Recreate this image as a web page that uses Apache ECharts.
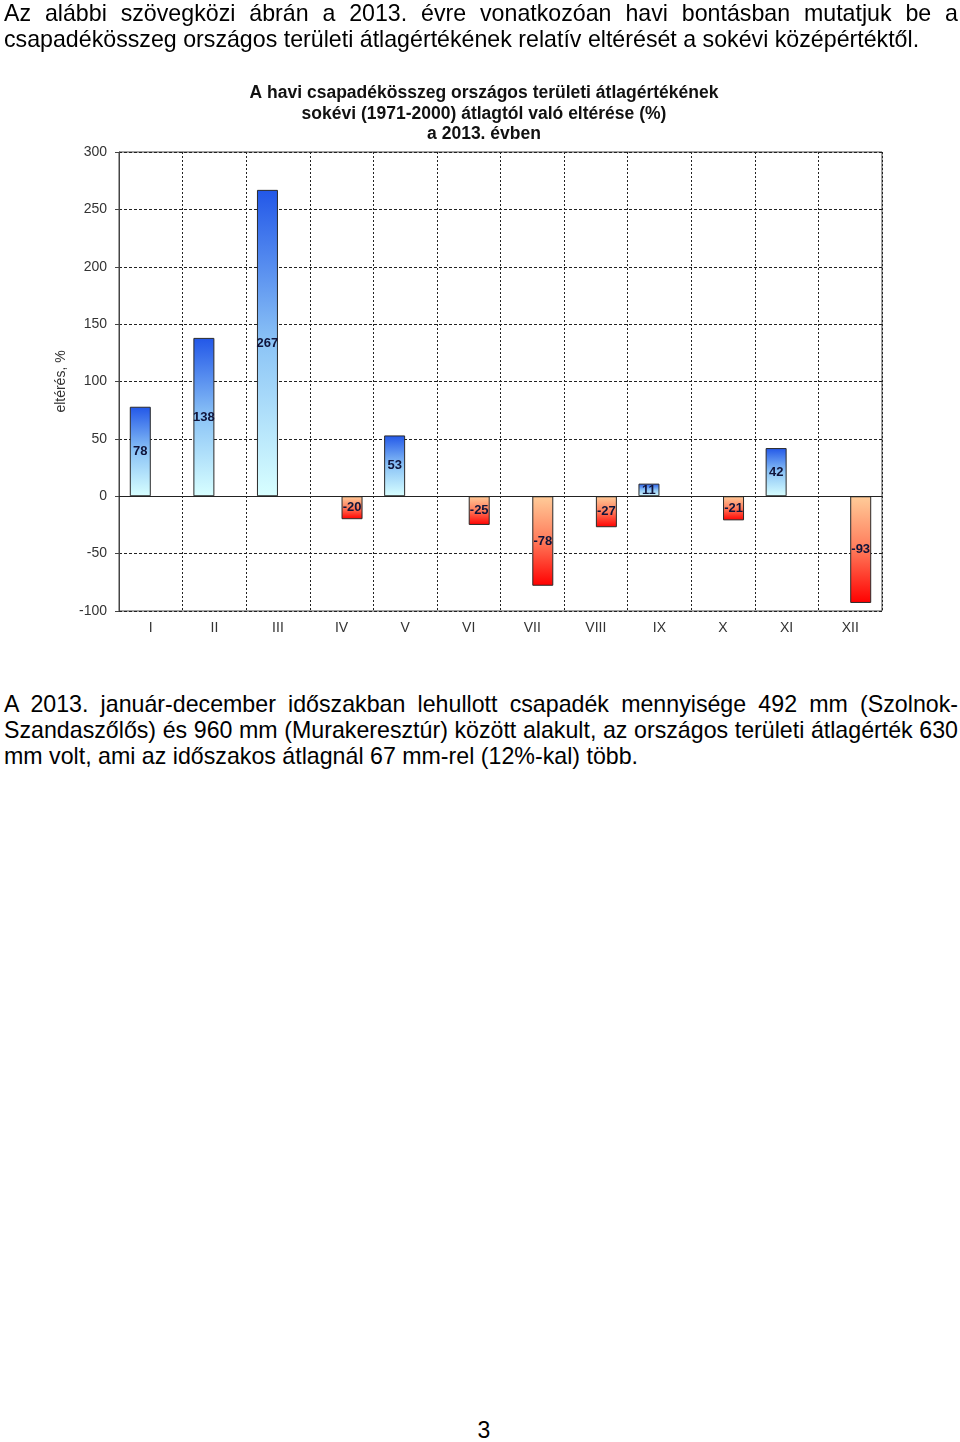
<!DOCTYPE html>
<html>
<head>
<meta charset="utf-8">
<script src="https://cdn.jsdelivr.net/npm/echarts@6/dist/echarts.min.js"></script>
<style>
  html, body { margin:0; padding:0; background:#fff; }
  body { width:960px; height:1442px; position:relative; overflow:hidden;
         font-family:"Liberation Sans", Arial, sans-serif; color:#000; }
  .ln { position:absolute; left:4px; width:954px; font-size:23.2px; line-height:26px; white-space:nowrap; }
  .j { text-align:justify; text-align-last:justify; }
  #chart { position:absolute; left:0; top:0; width:960px; height:680px; }
  #pg { position:absolute; left:0; width:960px; top:1417px; text-align:center; font-size:23px; line-height:26px; padding-left:4px; }
</style>
</head>
<body>
<div id="chart"></div>
<div class="ln j" style="top:0px">Az alábbi szövegközi ábrán a 2013. évre vonatkozóan havi bontásban mutatjuk be a</div>
<div class="ln" style="top:26px">csapadékösszeg országos területi átlagértékének relatív eltérését a sokévi középértéktől.</div>
<div class="ln j" style="top:691px">A 2013. január-december időszakban lehullott csapadék mennyisége 492 mm (Szolnok-</div>
<div class="ln j" style="top:717px">Szandaszőlős) és 960 mm (Murakeresztúr) között alakult, az országos területi átlagérték 630</div>
<div class="ln" style="top:743px">mm volt, ami az időszakos átlagnál 67 mm-rel (12%-kal) több.</div>
<div id="pg">3</div>
<script>
const months = ['I','II','III','IV','V','VI','VII','VIII','IX','X','XI','XII'];
const deviation = [78, 138, 267, -20, 53, -25, -78, -27, 11, -21, 42, -93];
const yTicks = [-100, -50, 0, 50, 100, 150, 200, 250, 300];
const titleLines = ['A havi csapadékösszeg országos területi átlagértékének',
                    'sokévi (1971-2000) átlagtól való eltérése (%)',
                    'a 2013. évben'];
const yName = 'eltérés, %';

const positive = deviation.map(v => v >= 0 ? v : '-');
const negative = deviation.map(v => v < 0 ? v : '-');

const FONT = '"Liberation Sans", Arial, sans-serif';
const chart = echarts.init(document.getElementById('chart'), null, {renderer:'canvas'});

const labelCfg = {
  show: true, position: 'inside', fontFamily: FONT, fontWeight: 'bold',
  fontSize: 13, color: '#10143a'
};

chart.setOption({
  animation: false,
  title: {
    text: titleLines.join('\n'),
    left: 479, top: 78, textAlign: 'center',
    textStyle: { fontFamily: FONT, fontWeight: 'bold', fontSize: 17.5, lineHeight: 20.5, color: '#111' }
  },
  grid: { left: 119, right: 78, top: 152, bottom: 69, show: true, borderColor: '#444', borderWidth: 1, backgroundColor: '#fff' },
  xAxis: {
    type: 'category', data: months, boundaryGap: true,
    axisLine: { show: false },
    axisTick: { show: false },
    axisLabel: { margin: 10, fontFamily: FONT, fontSize: 14, color: '#333' },
    splitLine: { show: true, interval: 0, lineStyle: { color: '#222', type: [2, 2], width: 1 } }
  },
  yAxis: {
    type: 'value', min: yTicks[0], max: yTicks[yTicks.length - 1], interval: 50,
    name: yName, nameLocation: 'middle', nameGap: 49, nameRotate: 90,
    nameTextStyle: { fontFamily: FONT, fontSize: 14, color: '#333' },
    axisLine: { show: true, lineStyle: { color: '#444' } },
    axisTick: { show: true, length: 4, lineStyle: { color: '#444' } },
    axisLabel: { margin: 12, fontFamily: FONT, fontSize: 14, color: '#333' },
    splitLine: { show: true, lineStyle: { color: '#222', type: [3, 2], width: 1 } }
  },
  series: [
    {
      type: 'bar', data: positive, barWidth: 21, barGap: '0%',
      itemStyle: {
        borderColor: '#2a2a2a', borderWidth: 1,
        color: new echarts.graphic.LinearGradient(0, 0, 0, 1, [
          { offset: 0, color: '#2257e8' },
          { offset: 0.5, color: '#8cc4f6' },
          { offset: 1, color: '#d8ffff' }
        ], false)
      },
      label: labelCfg,
      markLine: {
        silent: true, symbol: ['none', 'none'], label: { show: false },
        lineStyle: { color: '#222', type: 'solid', width: 1 },
        data: [{ yAxis: 0 }]
      }
    },
    {
      type: 'bar', data: negative, barWidth: 21, barGap: '0%',
      itemStyle: {
        borderColor: '#2a2a2a', borderWidth: 1,
        color: new echarts.graphic.LinearGradient(0, 0, 0, 1, [
          { offset: 0, color: '#ffcc99' },
          { offset: 0.5, color: '#ff7a5a' },
          { offset: 1, color: '#ff0000' }
        ], false)
      },
      label: labelCfg
    }
  ]
});
</script>
</body>
</html>
